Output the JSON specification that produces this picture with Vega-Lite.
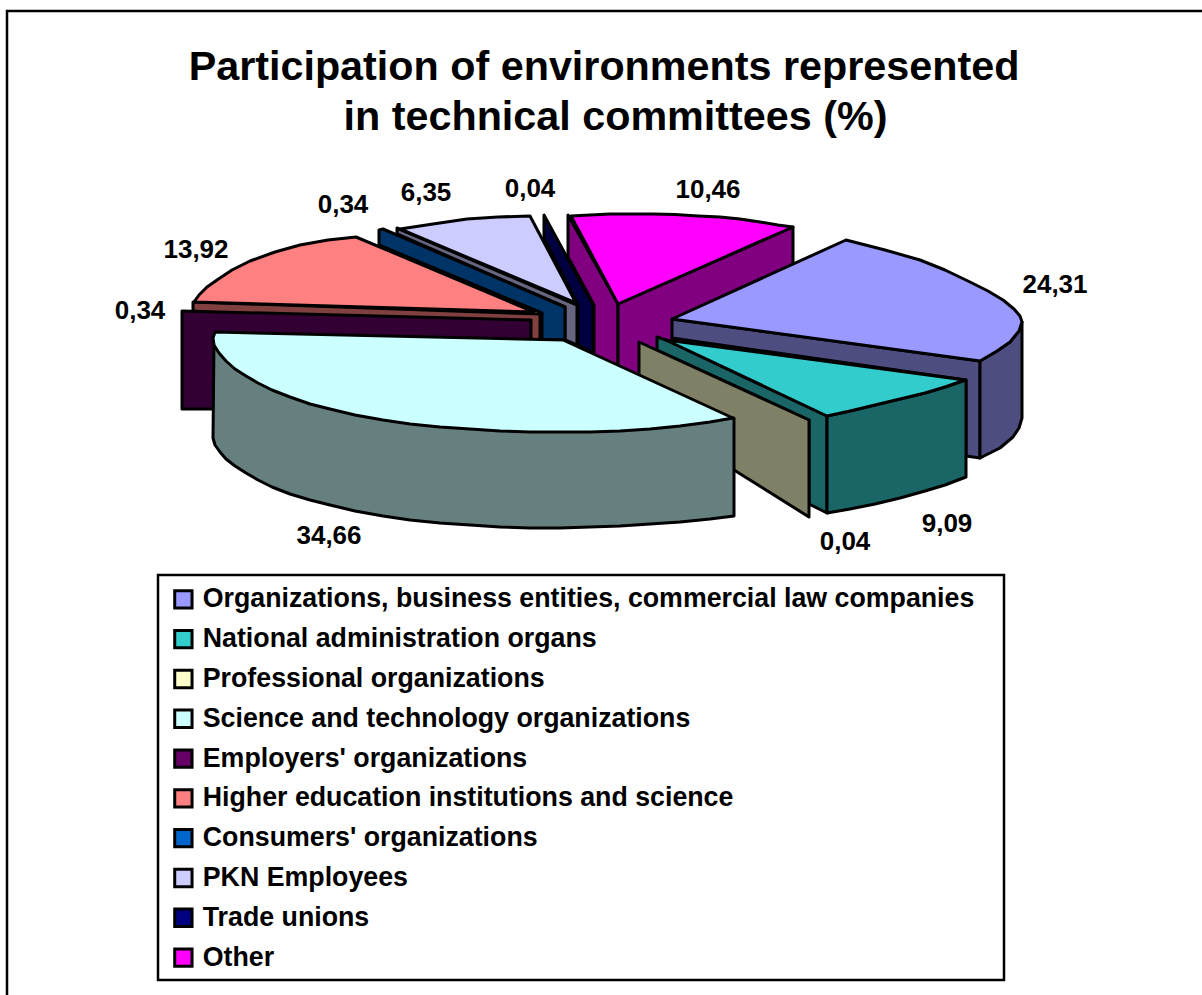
{"$schema":"https://vega.github.io/schema/vega-lite/v6.json","width":1202,"height":995,"autosize":"none","padding":0,"background":"white","config":{"view":{"stroke":null},"font":"Liberation Sans"},
"title":{"text":["Participation of environments represented","\u200b\u00a0\u00a0in technical committees (%)"],"fontSize":41.3,"fontWeight":"bold","font":"Liberation Sans","color":"black","anchor":"middle","dx":3,"dy":142,"lineHeight":50,"frame":"group"},
"datasets":{"frame":[{"x":7,"y":995,"p":1},{"x":7,"y":11,"p":2},{"x":1202,"y":11,"p":3}],
"box":[{"x":158,"y":575,"p":1},{"x":1004,"y":575,"p":2},{"x":1004,"y":980,"p":3},{"x":158,"y":980,"p":4}],
"slices":[{"name":"Organizations, business entities, commercial law companies","value":24.31,"label":"24,31","x":1055,"y":285},{"name":"National administration organs","value":9.09,"label":"9,09","x":947,"y":524},{"name":"Professional organizations","value":0.04,"label":"0,04","x":845,"y":542},{"name":"Science and technology organizations","value":34.66,"label":"34,66","x":329,"y":536},{"name":"Employers' organizations","value":0.34,"label":"0,34","x":140,"y":311},{"name":"Higher education institutions and science","value":13.92,"label":"13,92","x":196,"y":250},{"name":"Consumers' organizations","value":0.34,"label":"0,34","x":343,"y":205},{"name":"PKN Employees","value":6.35,"label":"6,35","x":426,"y":193},{"name":"Trade unions","value":0.04,"label":"0,04","x":530,"y":189},{"name":"Other","value":10.46,"label":"10,46","x":708,"y":190}],
"faces":[
{"part":"PKN Employees side","face":"a01","p":1,"x":397,"y":228},{"part":"PKN Employees side","face":"a01","p":2,"x":577,"y":305},{"part":"PKN Employees side","face":"a01","p":3,"x":577,"y":345},{"part":"PKN Employees side","face":"a01","p":4,"x":565,"y":340},{"part":"PKN Employees side","face":"a01","p":5,"x":565,"y":307},{"part":"PKN Employees side","face":"a01","p":6,"x":397,"y":234},
{"part":"PKN Employees","face":"a02","p":1,"x":400,"y":229},{"part":"PKN Employees","face":"a02","p":2,"x":433,"y":224},{"part":"PKN Employees","face":"a02","p":3,"x":467,"y":219},{"part":"PKN Employees","face":"a02","p":4,"x":498,"y":217},{"part":"PKN Employees","face":"a02","p":5,"x":530,"y":216},{"part":"PKN Employees","face":"a02","p":6,"x":576,"y":303},
{"part":"Trade unions side","face":"a03","p":1,"x":544,"y":215},{"part":"Trade unions side","face":"a03","p":2,"x":593,"y":305},{"part":"Trade unions side","face":"a03","p":3,"x":593,"y":353},{"part":"Trade unions side","face":"a03","p":4,"x":578,"y":345},{"part":"Trade unions side","face":"a03","p":5,"x":578,"y":305},{"part":"Trade unions side","face":"a03","p":6,"x":544,"y":238},
{"part":"Consumers' organizations side","face":"a04","p":1,"x":379,"y":230},{"part":"Consumers' organizations side","face":"a04","p":2,"x":383,"y":229},{"part":"Consumers' organizations side","face":"a04","p":3,"x":565,"y":307},{"part":"Consumers' organizations side","face":"a04","p":4,"x":565,"y":340},{"part":"Consumers' organizations side","face":"a04","p":5,"x":542,"y":340},{"part":"Consumers' organizations side","face":"a04","p":6,"x":542,"y":313},{"part":"Consumers' organizations side","face":"a04","p":7,"x":379,"y":245},
{"part":"Higher education institutions and science side","face":"a05","p":1,"x":193,"y":302},{"part":"Higher education institutions and science side","face":"a05","p":2,"x":540,"y":314},{"part":"Higher education institutions and science side","face":"a05","p":3,"x":540,"y":340},{"part":"Higher education institutions and science side","face":"a05","p":4,"x":520,"y":340},{"part":"Higher education institutions and science side","face":"a05","p":5,"x":193,"y":311},
{"part":"Higher education institutions and science","face":"a06","p":1,"x":194,"y":302},{"part":"Higher education institutions and science","face":"a06","p":2,"x":534,"y":312},{"part":"Higher education institutions and science","face":"a06","p":3,"x":356,"y":237},{"part":"Higher education institutions and science","face":"a06","p":4,"x":328,"y":240},{"part":"Higher education institutions and science","face":"a06","p":5,"x":300,"y":245},{"part":"Higher education institutions and science","face":"a06","p":6,"x":275,"y":252},{"part":"Higher education institutions and science","face":"a06","p":7,"x":250,"y":261},{"part":"Higher education institutions and science","face":"a06","p":8,"x":232,"y":270},{"part":"Higher education institutions and science","face":"a06","p":9,"x":217,"y":280},{"part":"Higher education institutions and science","face":"a06","p":10,"x":207,"y":287},{"part":"Higher education institutions and science","face":"a06","p":11,"x":199,"y":295},
{"part":"Employers' organizations side","face":"a07","p":1,"x":182,"y":311},{"part":"Employers' organizations side","face":"a07","p":2,"x":531,"y":320},{"part":"Employers' organizations side","face":"a07","p":3,"x":531,"y":345},{"part":"Employers' organizations side","face":"a07","p":4,"x":215,"y":345},{"part":"Employers' organizations side","face":"a07","p":5,"x":215,"y":409},{"part":"Employers' organizations side","face":"a07","p":6,"x":182,"y":409},
{"part":"Other side","face":"a08","p":1,"x":568,"y":215},{"part":"Other side","face":"a08","p":2,"x":568,"y":257},{"part":"Other side","face":"a08","p":3,"x":594,"y":305},{"part":"Other side","face":"a08","p":4,"x":594,"y":355},{"part":"Other side","face":"a08","p":5,"x":618,"y":368},{"part":"Other side","face":"a08","p":6,"x":618,"y":304},
{"part":"Other side","face":"a09","p":1,"x":618,"y":304},{"part":"Other side","face":"a09","p":2,"x":618,"y":368},{"part":"Other side","face":"a09","p":3,"x":640,"y":380},{"part":"Other side","face":"a09","p":4,"x":793,"y":264},{"part":"Other side","face":"a09","p":5,"x":793,"y":227},
{"part":"Other","face":"a10","p":1,"x":571,"y":216},{"part":"Other","face":"a10","p":2,"x":618,"y":304},{"part":"Other","face":"a10","p":3,"x":793,"y":227},{"part":"Other","face":"a10","p":4,"x":778,"y":225},{"part":"Other","face":"a10","p":5,"x":760,"y":222},{"part":"Other","face":"a10","p":6,"x":740,"y":219},{"part":"Other","face":"a10","p":7,"x":720,"y":217},{"part":"Other","face":"a10","p":8,"x":698,"y":216},{"part":"Other","face":"a10","p":9,"x":675,"y":214.5},{"part":"Other","face":"a10","p":10,"x":653,"y":214},{"part":"Other","face":"a10","p":11,"x":632,"y":214},{"part":"Other","face":"a10","p":12,"x":610,"y":214},{"part":"Other","face":"a10","p":13,"x":590,"y":215},
{"part":"Organizations, business entities, commercial law companies side","face":"a11","p":1,"x":672,"y":319},{"part":"Organizations, business entities, commercial law companies side","face":"a11","p":2,"x":980,"y":361},{"part":"Organizations, business entities, commercial law companies side","face":"a11","p":3,"x":980,"y":458},{"part":"Organizations, business entities, commercial law companies side","face":"a11","p":4,"x":966,"y":456},{"part":"Organizations, business entities, commercial law companies side","face":"a11","p":5,"x":966,"y":380},{"part":"Organizations, business entities, commercial law companies side","face":"a11","p":6,"x":672,"y":338},
{"part":"Organizations, business entities, commercial law companies side","face":"a12","p":1,"x":980,"y":361},{"part":"Organizations, business entities, commercial law companies side","face":"a12","p":2,"x":997,"y":351},{"part":"Organizations, business entities, commercial law companies side","face":"a12","p":3,"x":1010,"y":342},{"part":"Organizations, business entities, commercial law companies side","face":"a12","p":4,"x":1019,"y":331},{"part":"Organizations, business entities, commercial law companies side","face":"a12","p":5,"x":1022,"y":322},{"part":"Organizations, business entities, commercial law companies side","face":"a12","p":6,"x":1022,"y":418},{"part":"Organizations, business entities, commercial law companies side","face":"a12","p":7,"x":1019,"y":428},{"part":"Organizations, business entities, commercial law companies side","face":"a12","p":8,"x":1013,"y":437},{"part":"Organizations, business entities, commercial law companies side","face":"a12","p":9,"x":1000,"y":448},{"part":"Organizations, business entities, commercial law companies side","face":"a12","p":10,"x":990,"y":453},{"part":"Organizations, business entities, commercial law companies side","face":"a12","p":11,"x":980,"y":458},
{"part":"Organizations, business entities, commercial law companies","face":"a13","p":1,"x":672,"y":319},{"part":"Organizations, business entities, commercial law companies","face":"a13","p":2,"x":846,"y":240},{"part":"Organizations, business entities, commercial law companies","face":"a13","p":3,"x":885,"y":250},{"part":"Organizations, business entities, commercial law companies","face":"a13","p":4,"x":920,"y":260},{"part":"Organizations, business entities, commercial law companies","face":"a13","p":5,"x":945,"y":270},{"part":"Organizations, business entities, commercial law companies","face":"a13","p":6,"x":970,"y":282},{"part":"Organizations, business entities, commercial law companies","face":"a13","p":7,"x":988,"y":291},{"part":"Organizations, business entities, commercial law companies","face":"a13","p":8,"x":1003,"y":300},{"part":"Organizations, business entities, commercial law companies","face":"a13","p":9,"x":1014,"y":309},{"part":"Organizations, business entities, commercial law companies","face":"a13","p":10,"x":1020,"y":316},{"part":"Organizations, business entities, commercial law companies","face":"a13","p":11,"x":1022,"y":322},{"part":"Organizations, business entities, commercial law companies","face":"a13","p":12,"x":1019,"y":331},{"part":"Organizations, business entities, commercial law companies","face":"a13","p":13,"x":1010,"y":342},{"part":"Organizations, business entities, commercial law companies","face":"a13","p":14,"x":997,"y":351},{"part":"Organizations, business entities, commercial law companies","face":"a13","p":15,"x":980,"y":361},
{"part":"National administration organs side","face":"a14","p":1,"x":657,"y":337},{"part":"National administration organs side","face":"a14","p":2,"x":666,"y":340},{"part":"National administration organs side","face":"a14","p":3,"x":827,"y":416},{"part":"National administration organs side","face":"a14","p":4,"x":827,"y":513},{"part":"National administration organs side","face":"a14","p":5,"x":809,"y":504},{"part":"National administration organs side","face":"a14","p":6,"x":809,"y":420},{"part":"National administration organs side","face":"a14","p":7,"x":657,"y":350},
{"part":"National administration organs side","face":"a15","p":1,"x":827,"y":416},{"part":"National administration organs side","face":"a15","p":2,"x":850,"y":411},{"part":"National administration organs side","face":"a15","p":3,"x":875,"y":405},{"part":"National administration organs side","face":"a15","p":4,"x":900,"y":399},{"part":"National administration organs side","face":"a15","p":5,"x":925,"y":393},{"part":"National administration organs side","face":"a15","p":6,"x":945,"y":387},{"part":"National administration organs side","face":"a15","p":7,"x":966,"y":380},{"part":"National administration organs side","face":"a15","p":8,"x":966,"y":477},{"part":"National administration organs side","face":"a15","p":9,"x":945,"y":485},{"part":"National administration organs side","face":"a15","p":10,"x":925,"y":491},{"part":"National administration organs side","face":"a15","p":11,"x":900,"y":498},{"part":"National administration organs side","face":"a15","p":12,"x":875,"y":504},{"part":"National administration organs side","face":"a15","p":13,"x":850,"y":509},{"part":"National administration organs side","face":"a15","p":14,"x":827,"y":513},
{"part":"National administration organs","face":"a16","p":1,"x":666,"y":340},{"part":"National administration organs","face":"a16","p":2,"x":965,"y":380},{"part":"National administration organs","face":"a16","p":3,"x":945,"y":387},{"part":"National administration organs","face":"a16","p":4,"x":925,"y":393},{"part":"National administration organs","face":"a16","p":5,"x":900,"y":399},{"part":"National administration organs","face":"a16","p":6,"x":875,"y":405},{"part":"National administration organs","face":"a16","p":7,"x":850,"y":411},{"part":"National administration organs","face":"a16","p":8,"x":827,"y":416},
{"part":"Professional organizations side","face":"a17","p":1,"x":639,"y":342},{"part":"Professional organizations side","face":"a17","p":2,"x":809,"y":420},{"part":"Professional organizations side","face":"a17","p":3,"x":809,"y":517},{"part":"Professional organizations side","face":"a17","p":4,"x":734,"y":470},{"part":"Professional organizations side","face":"a17","p":5,"x":639,"y":410},
{"part":"Science and technology organizations side","face":"a18","p":1,"x":214,"y":340},{"part":"Science and technology organizations side","face":"a18","p":2,"x":213,"y":438},{"part":"Science and technology organizations side","face":"a18","p":3,"x":215,"y":445},{"part":"Science and technology organizations side","face":"a18","p":4,"x":220,"y":452},{"part":"Science and technology organizations side","face":"a18","p":5,"x":226,"y":459},{"part":"Science and technology organizations side","face":"a18","p":6,"x":235,"y":466},{"part":"Science and technology organizations side","face":"a18","p":7,"x":246,"y":473},{"part":"Science and technology organizations side","face":"a18","p":8,"x":258,"y":480},{"part":"Science and technology organizations side","face":"a18","p":9,"x":272,"y":487},{"part":"Science and technology organizations side","face":"a18","p":10,"x":290,"y":494},{"part":"Science and technology organizations side","face":"a18","p":11,"x":310,"y":500},{"part":"Science and technology organizations side","face":"a18","p":12,"x":330,"y":505},{"part":"Science and technology organizations side","face":"a18","p":13,"x":355,"y":511},{"part":"Science and technology organizations side","face":"a18","p":14,"x":383,"y":516},{"part":"Science and technology organizations side","face":"a18","p":15,"x":410,"y":520},{"part":"Science and technology organizations side","face":"a18","p":16,"x":440,"y":523},{"part":"Science and technology organizations side","face":"a18","p":17,"x":470,"y":525},{"part":"Science and technology organizations side","face":"a18","p":18,"x":500,"y":527},{"part":"Science and technology organizations side","face":"a18","p":19,"x":530,"y":528},{"part":"Science and technology organizations side","face":"a18","p":20,"x":560,"y":528},{"part":"Science and technology organizations side","face":"a18","p":21,"x":590,"y":527},{"part":"Science and technology organizations side","face":"a18","p":22,"x":620,"y":526},{"part":"Science and technology organizations side","face":"a18","p":23,"x":650,"y":524},{"part":"Science and technology organizations side","face":"a18","p":24,"x":680,"y":522},{"part":"Science and technology organizations side","face":"a18","p":25,"x":710,"y":519},{"part":"Science and technology organizations side","face":"a18","p":26,"x":734,"y":516},{"part":"Science and technology organizations side","face":"a18","p":27,"x":734,"y":418},{"part":"Science and technology organizations side","face":"a18","p":28,"x":583,"y":428},{"part":"Science and technology organizations side","face":"a18","p":29,"x":290,"y":390},
{"part":"Science and technology organizations","face":"a19","p":1,"x":215,"y":332},{"part":"Science and technology organizations","face":"a19","p":2,"x":563,"y":340},{"part":"Science and technology organizations","face":"a19","p":3,"x":733,"y":418},{"part":"Science and technology organizations","face":"a19","p":4,"x":710,"y":422},{"part":"Science and technology organizations","face":"a19","p":5,"x":680,"y":426},{"part":"Science and technology organizations","face":"a19","p":6,"x":650,"y":429},{"part":"Science and technology organizations","face":"a19","p":7,"x":620,"y":431},{"part":"Science and technology organizations","face":"a19","p":8,"x":590,"y":432},{"part":"Science and technology organizations","face":"a19","p":9,"x":560,"y":432},{"part":"Science and technology organizations","face":"a19","p":10,"x":530,"y":432},{"part":"Science and technology organizations","face":"a19","p":11,"x":500,"y":431},{"part":"Science and technology organizations","face":"a19","p":12,"x":470,"y":429},{"part":"Science and technology organizations","face":"a19","p":13,"x":440,"y":427},{"part":"Science and technology organizations","face":"a19","p":14,"x":410,"y":424},{"part":"Science and technology organizations","face":"a19","p":15,"x":383,"y":420},{"part":"Science and technology organizations","face":"a19","p":16,"x":355,"y":415},{"part":"Science and technology organizations","face":"a19","p":17,"x":330,"y":409},{"part":"Science and technology organizations","face":"a19","p":18,"x":310,"y":404},{"part":"Science and technology organizations","face":"a19","p":19,"x":290,"y":397},{"part":"Science and technology organizations","face":"a19","p":20,"x":272,"y":390},{"part":"Science and technology organizations","face":"a19","p":21,"x":258,"y":383},{"part":"Science and technology organizations","face":"a19","p":22,"x":246,"y":376},{"part":"Science and technology organizations","face":"a19","p":23,"x":235,"y":369},{"part":"Science and technology organizations","face":"a19","p":24,"x":226,"y":361},{"part":"Science and technology organizations","face":"a19","p":25,"x":219,"y":353},{"part":"Science and technology organizations","face":"a19","p":26,"x":214,"y":345},{"part":"Science and technology organizations","face":"a19","p":27,"x":213,"y":338}
]},
"encoding":{"x":{"field":"x","type":"quantitative","axis":null,"scale":{"domain":[0,1202],"nice":false,"zero":false}},"y":{"field":"y","type":"quantitative","axis":null,"scale":{"domain":[0,995],"nice":false,"zero":false,"reverse":true}}},
"layer":[
{"data":{"name":"frame"},"mark":{"type":"line","stroke":"black","strokeWidth":2.5,"clip":false},"encoding":{"order":{"field":"p","type":"quantitative"}}},
{"data":{"name":"box"},"mark":{"type":"line","interpolate":"linear-closed","stroke":"black","strokeWidth":2.5},"encoding":{"order":{"field":"p","type":"quantitative"}}},
{"data":{"name":"faces"},"mark":{"type":"line","interpolate":"linear-closed","stroke":"black","strokeWidth":3,"strokeJoin":"round"},"encoding":{"detail":{"field":"face"},"order":{"field":"p","type":"quantitative"},
"fill":{"field":"part","type":"nominal","scale":{"domain":["Organizations, business entities, commercial law companies","National administration organs","Professional organizations","Science and technology organizations","Employers' organizations","Higher education institutions and science","Consumers' organizations","PKN Employees","Trade unions","Other","Organizations, business entities, commercial law companies side","National administration organs side","Professional organizations side","Science and technology organizations side","Employers' organizations side","Higher education institutions and science side","Consumers' organizations side","PKN Employees side","Trade unions side","Other side"],"range":["#9999FF","#33CCCC","#FFFFCC","#CCFFFF","#660066","#FF8080","#0066CC","#CCCCFF","#000080","#FF00FF","#4D4D80","#1A6666","#808066","#668080","#330033","#804040","#003366","#666680","#000040","#800080"]},
"legend":{"values":["Organizations, business entities, commercial law companies","National administration organs","Professional organizations","Science and technology organizations","Employers' organizations","Higher education institutions and science","Consumers' organizations","PKN Employees","Trade unions","Other"],"title":null,"orient":"none","legendX":154,"legendY":570,"symbolType":"square","symbolSize":300,"symbolStrokeColor":"black","symbolStrokeWidth":3,"symbolOpacity":1,"labelFont":"Liberation Sans","labelFontSize":26.75,"labelFontWeight":"bold","labelColor":"black","labelLimit":900,"labelOffset":6,"rowPadding":8.8,"padding":16}}}},
{"data":{"name":"slices"},"mark":{"type":"text","font":"Liberation Sans","fontWeight":"bold","fontSize":26,"color":"black"},"encoding":{"text":{"field":"label"}}}
]}
